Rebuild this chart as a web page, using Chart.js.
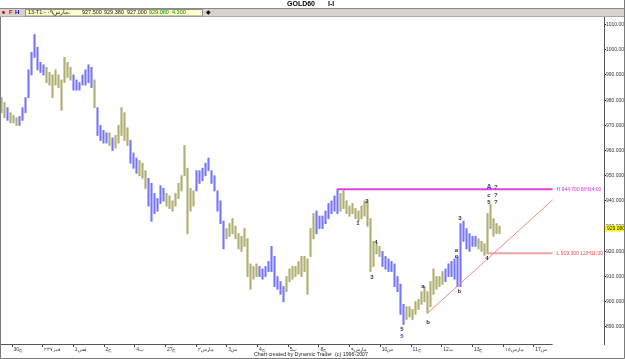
<!DOCTYPE html>
<html><head><meta charset="utf-8">
<script src="https://cdn.jsdelivr.net/npm/chart.js@4.4.1/dist/chart.umd.min.js"></script>
<style>
html,body{margin:0;padding:0;background:#fff;}
#wrap{position:relative;width:625px;height:359px;overflow:hidden;background:#fff;}
</style></head><body>
<div id="wrap"><canvas id="c" width="625" height="359"></canvas></div>
<script>
// ---- data ----
const symbol = 'GOLD60';
const frameName = 'I-I';
const quoteDate = '13-T1:- مارس٠٩،';
const quote = [927.5, 929.38, 927.0, 929.08, 4.3]; // open, high, low, close, change
const dayLabels = ['ج30','فبر٢٣٧','1فس','ج2','4ب','ج27','مارس٢','3س','ج4','5ب','ج8','مارس٩','10س','ج11','12ب','ج13','مارس١٥','17س'];
const priceTicks = [890,900,910,920,930,940,950,960,970,980,990,1000,1010];
const lows = [975,973,972,971,971,970,970,972,975,981,990,997,992,991,990,987,986,981,986,985,
 976,987,989,988,984,984,984,986,986,987,985,977,966,964,963,963,962,960,961,963,
 966,964,962,955,953,951,950,949,945,938,932,935,936,939,940,938,937,936,938,941,
 944,950,927,936,938,944,947,948,950,952,947,944,936,931,921,925,926,927,925,921,
 920,922,910,905,909,910,910,909,910,912,912,906,905,903,900,904,908,909,910,911,
 910,912,903,918,925,927,929,929,931,933,935,936,935,936,937,935,934,935,933,932,
 933,934,930,912,914,919,918,914,913,912,912,906,904,895,891,893,894,893,895,897,
 899,900,895.5,898,903,905,906,907,908,910,910,909,906,906,924,921,920,922,922,921,
 920,918.5,919,929,926,927,927];
const highs = [981,979,977,975,974,973,973.5,977,981,992,999,1006,1001,995,994,993,991,990,992,990,
 988,997,995,993,990,988,987,990,992,994,993,988,977,970,968,967,967,965,966,970,
 977,975,969,964,959,957,956,955,952,949,947,943,941,946,945,943,942,940,943,947,
 950,962,953,945,944,952,952,953,955,957,952,950,944,940,932,929,931,933,930,927,
 926,929,925,915,914,915,914,913,914,916,922,918,910,908,906,910,913,914,914,916,
 918,918,917,929,935,936,934,934,936,939,940,942,944.7,943,944,940,938,939,937,936,
 938,940,940,933,924,923,922,920,918,917,916,915,910,907,899,898,898,897,900,901,
 904,906,904,908,913,910,910,912,913,915,916,917,918,931,932,929,927,926,926,925,
 924,923,935,938.5,933,931,930];
const swing = 'oobooobbbbbbbbbooooooooobbbbbbbobbbbobooooobbbooobbbbbboooooooooobbbbbbbbbbooooooooooobbbbbbbbboooooooooobbbbbbbboooooooooooooobbbbbbbbooooooooooooobbbbbbbbbbboooooooooo';
const highLine = {price: 944.7, from: 112, text: 'H 944.700 8/H14:00'};
const lowLine = {price: 919.3, from: 162, text: 'L 919.300 12/H11:00'};
const trendLine = [{i: 142, price: 895.5}, {i: 183.7, price: 940.4}];
const waveLabels = [
 {i:118.8, p:931.0, t:'1'}, {i:121.8, p:940.0, t:'2'}, {i:123.5, p:909.8, t:'3'},
 {i:124.8, p:923.6, t:'4'}, {i:133.5, p:889.0, t:'5'}, {i:133.5, p:886.4, t:'5', blue:true},
 {i:140.5, p:906.0, t:'a'}, {i:142.2, p:891.8, t:'b'},
 {i:151.6, p:920.4, t:'a'}, {i:151.6, p:918.0, t:'c'}, {i:152.6, p:904.2, t:'b'},
 {i:152.8, p:933.2, t:'3'}, {i:161.8, p:917.3, t:'4'},
 {i:162.5, p:945.4, t:'A', blue:true}, {i:164.8, p:945.6, t:'?'},
 {i:162.5, p:942.4, t:'c'}, {i:164.8, p:942.4, t:'?'},
 {i:162.5, p:939.6, t:'5'}, {i:164.8, p:939.4, t:'?'}
];
const footer = 'Chart created by Dynamic Trader  (c) 1996-2007';

// ---- layout constants (positions) ----
const firstTickIdx = 3.5, barsPerDay = 10.233, axisEndIdx = 183.7;
const FONT = '"Liberation Sans", Arial, sans-serif';

const barData = highs.map((h, i) => ({x: i, y: [lows[i], h]}));
const BLUE = '#5a5af6', OLIVE = '#9a9a50';
const BLUE_L = 'rgba(150,150,255,0.45)', OLIVE_L = 'rgba(195,195,150,0.5)';

const headerPlugin = {
  id: 'header',
  beforeDraw(chart) {
    const ctx = chart.ctx;
    ctx.save();
    ctx.fillStyle = '#fff'; ctx.fillRect(0, 0, 625, 359);
    ctx.textBaseline = 'middle';
    ctx.fillStyle = '#000'; ctx.font = 'bold 7px ' + FONT;
    ctx.fillText(symbol, 287, 4.5);
    ctx.fillText(frameName, 328, 4.5);
    ctx.fillStyle = '#8a8a8a'; ctx.fillRect(0, 8, 625, 1);
    ctx.fillStyle = '#d6d3ce'; ctx.fillRect(0, 9, 625, 7);
    ctx.fillStyle = '#a8a8a8'; ctx.fillRect(0, 16, 625, 1);
    ctx.fillStyle = '#e00000'; ctx.beginPath(); ctx.arc(3.5, 12.5, 1.4, 0, Math.PI * 2); ctx.fill();
    ctx.font = 'bold 6px ' + FONT;
    ctx.fillText('F', 9, 12.8);
    ctx.fillStyle = '#0000c0'; ctx.fillText('H', 15, 12.8);
    ctx.fillStyle = '#ffffc8'; ctx.fillRect(25, 9.5, 177, 6.5);
    ctx.strokeStyle = '#909090'; ctx.lineWidth = 1; ctx.strokeRect(25.5, 9.5, 177, 6.5);
    ctx.font = '5.5px ' + FONT; ctx.fillStyle = '#222';
    ctx.fillText(quoteDate, 28, 12.9);
    const xs = [82, 104, 127, 149, 172];
    quote.forEach((q, k) => {
      ctx.fillStyle = k >= 3 ? '#109010' : '#222';
      ctx.fillText(q.toFixed(3), xs[k], 12.9);
    });
    ctx.fillStyle = '#000'; ctx.font = '6px ' + FONT; ctx.fillText('◆', 206, 12.8);
    ctx.restore();
  }
};

const overlayPlugin = {
  id: 'overlay',
  afterDatasetsDraw(chart) {
    const {ctx, scales: {x, y}, chartArea: ca} = chart;
    ctx.save();
    const endPx = x.getPixelForValue(axisEndIdx);
    // trend line
    ctx.strokeStyle = '#f28a8a'; ctx.lineWidth = 1;
    ctx.beginPath();
    ctx.moveTo(x.getPixelForValue(trendLine[0].i), y.getPixelForValue(trendLine[0].price));
    ctx.lineTo(x.getPixelForValue(trendLine[1].i), y.getPixelForValue(trendLine[1].price));
    ctx.stroke();
    // low line
    let yy = y.getPixelForValue(lowLine.price);
    ctx.strokeStyle = '#f4a0a0'; ctx.lineWidth = 2;
    ctx.beginPath(); ctx.moveTo(x.getPixelForValue(lowLine.from), yy); ctx.lineTo(endPx, yy); ctx.stroke();
    ctx.font = '5px ' + FONT; ctx.textBaseline = 'middle'; ctx.textAlign = 'left';
    ctx.fillStyle = '#f04848'; ctx.fillText(lowLine.text, endPx + 4, yy);
    // high line
    yy = y.getPixelForValue(highLine.price);
    ctx.strokeStyle = '#e040e0'; ctx.lineWidth = 2;
    ctx.beginPath(); ctx.moveTo(x.getPixelForValue(highLine.from), yy); ctx.lineTo(endPx, yy); ctx.stroke();
    ctx.fillStyle = '#e030e0'; ctx.fillText(highLine.text, endPx + 4, yy);
    // wave labels
    ctx.textAlign = 'center';
    waveLabels.forEach(l => {
      ctx.font = (l.blue && l.t === 'A' ? 'bold 7px ' : 'bold 6px ') + FONT;
      ctx.fillStyle = l.blue ? '#4040e8' : '#333';
      ctx.fillText(l.t, x.getPixelForValue(l.i), y.getPixelForValue(l.p));
    });
    ctx.restore();
  },
  afterDraw(chart) {
    const {ctx, scales: {x, y}, chartArea: ca} = chart;
    ctx.save();
    ctx.strokeStyle = '#555'; ctx.lineWidth = 1;
    ctx.beginPath(); ctx.moveTo(ca.left, ca.bottom + 0.5); ctx.lineTo(x.getPixelForValue(axisEndIdx), ca.bottom + 0.5); ctx.stroke();
    const py = y.getPixelForValue(quote[3]);
    ctx.fillStyle = '#ffff00'; ctx.fillRect(ca.right + 1, py - 3, 21, 6);
    ctx.fillStyle = '#222'; ctx.font = '5px ' + FONT; ctx.textBaseline = 'middle'; ctx.textAlign = 'left';
    ctx.fillText(quote[3].toFixed(3), ca.right + 3, py + 0.3);
    ctx.textAlign = 'center'; ctx.fillStyle = '#222'; ctx.font = '5.3px ' + FONT;
    ctx.fillText(footer, 311, 354.5);
    ctx.strokeStyle = '#7a7a7a'; ctx.lineWidth = 1;
    ctx.beginPath();
    ctx.moveTo(0.5, 17); ctx.lineTo(0.5, 358.5); ctx.lineTo(624.5, 358.5); ctx.lineTo(624.5, 0);
    ctx.stroke();
    ctx.restore();
  }
};

new Chart(document.getElementById('c'), {
  type: 'bar',
  data: {
    datasets: [
      {data: barData, backgroundColor: swing.split('').map(s => s === 'b' ? BLUE_L : OLIVE_L), barThickness: 2.2, borderWidth: 0},
      {data: barData, backgroundColor: swing.split('').map(s => s === 'b' ? BLUE : OLIVE), barThickness: 1, borderWidth: 0}
    ]
  },
  options: {
    responsive: false,
    animation: false,
    events: [],
    grouped: false,
    layout: {padding: {top: 17, left: 0, right: 0, bottom: 0}},
    plugins: {legend: {display: false}, tooltip: {enabled: false}, title: {display: false}},
    scales: {
      x: {
        type: 'linear', min: -0.5, max: 200.83, offset: false,
        grid: {offset: false, drawOnChartArea: false, drawTicks: true, tickLength: 3, color: '#444', tickColor: '#444'},
        border: {display: false},
        afterBuildTicks: s => { s.ticks = dayLabels.map((l, k) => ({value: firstTickIdx + k * barsPerDay})); },
        afterFit: s => { s.height = 15; s.paddingLeft = 0; s.paddingRight = 0; },
        ticks: {autoSkip: false, maxRotation: 0, align: 'start', padding: 0, color: '#333',
          font: {size: 5, family: FONT}, callback: (v, idx) => ' ' + dayLabels[idx]}
      },
      y: {
        position: 'right', min: 883.25, max: 1013.0,
        grid: {drawOnChartArea: false, drawTicks: true, tickLength: 2, tickColor: '#222'},
        border: {display: true, color: '#555', width: 1},
        afterBuildTicks: s => { s.ticks = priceTicks.map(v => ({value: v})); },
        afterFit: s => { s.width = 21; s.paddingTop = 0; s.paddingBottom = 0; },
        ticks: {padding: 0, color: '#333', font: {size: 5, family: FONT}, callback: v => Number(v).toFixed(3)}
      }
    }
  },
  plugins: [headerPlugin, overlayPlugin]
});
</script>
</body></html>
